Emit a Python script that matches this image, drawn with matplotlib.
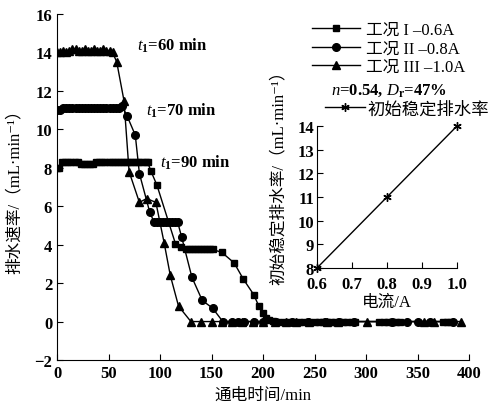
import matplotlib
matplotlib.use('Agg')
import matplotlib.pyplot as plt
from matplotlib.lines import Line2D

plt.rcParams['font.family'] = ['Liberation Serif', 'Noto Sans CJK SC', 'DejaVu Sans']
plt.rcParams['mathtext.fontset'] = 'custom'
plt.rcParams['mathtext.rm'] = 'Liberation Serif:bold'
plt.rcParams['mathtext.it'] = 'Liberation Serif:italic'
plt.rcParams['mathtext.bf'] = 'Liberation Serif:bold'

# Datos
# Caso I - 0.6A (cuadrados)
t1 = [0, 2, 5, 8, 11, 14, 17, 20, 23, 26, 29, 32, 35, 38, 41, 44, 47, 50, 53, 56, 59,
      62, 65, 68, 71, 74, 77, 80, 83, 86, 88, 91, 97, 115, 120, 125, 128, 131, 134, 137,
      140, 143, 146, 149, 151, 160, 172, 181, 191, 196, 200, 203, 206, 210, 215, 220,
      225, 230, 235, 240, 245, 250, 254, 258, 262, 266, 270, 274, 278, 282, 286, 289,
      313, 317, 321, 325, 329, 333, 375, 379, 382]
v1 = [8.0, 8.0, 8.3, 8.3, 8.3, 8.3, 8.3, 8.3, 8.2, 8.2, 8.2, 8.2, 8.2, 8.3, 8.3, 8.3,
      8.3, 8.3, 8.3, 8.3, 8.3, 8.3, 8.3, 8.3, 8.3, 8.3, 8.3, 8.3, 8.3, 8.3, 8.3, 7.85,
      7.1, 4.05, 3.9, 3.75, 3.75, 3.75, 3.75, 3.75, 3.75, 3.75, 3.75, 3.75, 3.75, 3.6,
      3.05, 2.2, 1.4, 0.8, 0.45, 0.2, 0.1, 0.05, 0, 0, 0, 0, 0, 0, 0, 0, 0, 0, 0, 0, 0,
      0, 0, 0, 0, 0, 0, 0, 0, 0, 0, 0, 0, 0, 0]

# Caso II - 0.8A (circulos)
t2 = [0, 3, 6, 9, 12, 15, 18, 21, 24, 27, 30, 33, 36, 39, 42, 45, 48, 51, 54, 57, 60,
      63, 68, 76, 80, 90, 94, 97, 100, 103, 106, 109, 112, 115, 117, 121, 131, 141, 151,
      161, 170, 176, 182, 191, 200, 213, 228, 244, 260, 274, 288, 325, 340, 350, 362, 384]
v2 = [11.0, 11.0, 11.1, 11.1, 11.1, 11.1, 11.1, 11.1, 11.1, 11.1, 11.1, 11.1, 11.1,
      11.1, 11.1, 11.1, 11.1, 11.1, 11.1, 11.1, 11.1, 11.2, 10.7, 9.7, 7.7, 5.7, 5.2,
      5.2, 5.2, 5.2, 5.2, 5.2, 5.2, 5.2, 5.2, 4.4, 2.3, 1.1, 0.7, 0, 0, 0, 0, 0, 0, 0,
      0, 0, 0, 0, 0, 0, 0, 0, 0, 0]

# Caso III - 1.0A (triangulos)
t3 = [0, 3, 6, 9, 12, 15, 18, 21, 24, 27, 30, 33, 36, 39, 42, 45, 48, 51, 54, 58, 65,
      70, 80, 87, 96, 104, 110, 118, 130, 140, 150, 160, 170, 180, 190, 200, 212, 222,
      232, 245, 262, 273, 301, 356, 366, 392]
v3 = [14.0, 14.0, 14.1, 14.0, 14.1, 14.2, 14.2, 14.1, 14.1, 14.2, 14.1, 14.1, 14.2,
      14.1, 14.1, 14.2, 14.1, 14.1, 14.0, 13.5, 11.5, 7.8, 6.2, 6.4, 6.2, 4.1, 2.4, 0.8,
      0, 0, 0, 0, 0, 0, 0, 0, 0, 0, 0, 0, 0, 0, 0, 0, 0, 0]

# Inserto: tasa inicial estable
corriente = [0.6, 0.8, 1.0]
tasa_inicial = [8, 11, 14]

etiquetas = ['工况 I –0.6A', '工况 II –0.8A', '工况 III –1.0A']

fig = plt.figure(figsize=(4.93, 4.10), dpi=100)
ax = fig.add_axes([57/493, 1-361/410, 412/493, 346/410])

ax.plot(t1, v1, 'k-', marker='s', ms=5, lw=1)
ax.plot(t2, v2, 'k-', marker='o', ms=5.5, lw=1)
ax.plot(t3, v3, 'k-', marker='^', ms=6, lw=1)

ax.set_xlim(0, 400)
ax.set_ylim(-2, 16)
ax.set_xticks(range(0, 401, 50))
ax.set_yticks(range(-2, 17, 2))
ax.set_yticklabels(['−2'] + [str(v) for v in range(0, 17, 2)])
ax.spines['top'].set_visible(False)
ax.spines['right'].set_visible(False)
ax.tick_params(direction='in', length=4, labelsize=12)
for lab in ax.get_xticklabels() + ax.get_yticklabels():
    lab.set_fontweight('bold')
ax.set_xlabel('通电时间/min', fontsize=12, labelpad=4)
ax.set_ylabel('排水速率/（mL·min⁻¹）', fontsize=12)
ax.yaxis.set_label_coords(-0.083, 0.5)

ax.text(78, 14.4, '$t_1$=60 min', fontsize=12, fontweight='bold', va='center')
ax.text(86, 11.0, '$t_1$=70 min', fontsize=12, fontweight='bold', va='center')
ax.text(100, 8.3, '$t_1$=90 min', fontsize=12, fontweight='bold', va='center')

h = [Line2D([], [], color='k', lw=1, marker=m, ms=s) for m, s in [('s', 5), ('o', 5.5), ('^', 6)]]
leg = fig.legend(h, etiquetas, loc='upper left', bbox_to_anchor=(312/493, 1-23/410),
                 frameon=False, prop={'size': 12}, handlelength=2.9,
                 handletextpad=0.35, labelspacing=0.15, borderpad=0, borderaxespad=0)
fig.text(331/493, 1-91/410, '$n$=0.54, $D_\\mathrm{r}$=47%', fontsize=12,
         fontweight='bold', va='center')

# Inserto
ins = fig.add_axes([317/493, 1-269/410, 140/493, 142/410])
ins.plot(corriente, tasa_inicial, 'k-', marker=(6, 2, 0), ms=6, mew=1, lw=1, clip_on=False)
ins.set_xlim(0.6, 1.0)
ins.set_ylim(8, 14)
ins.set_xticks([0.6, 0.7, 0.8, 0.9, 1.0])
ins.set_xticklabels(['0.6', '0.7', '0.8', '0.9', '1.0'])
ins.set_yticks(range(8, 15))
ins.spines['top'].set_visible(False)
ins.spines['right'].set_visible(False)
ins.patch.set_alpha(0)
ins.tick_params(direction='in', length=4, labelsize=12, pad=2)
ins.tick_params(axis='x', pad=6)
for lab in ins.get_xticklabels() + ins.get_yticklabels():
    lab.set_fontweight('bold')
ins.set_xlabel('电流/A', fontsize=12, labelpad=1)
ins.set_ylabel('初始稳定排水率/（mL·min⁻¹）', fontsize=12)
ins.yaxis.set_label_coords(-0.214, 0.67)

hs = [Line2D([], [], color='k', lw=1, marker=(6, 2, 0), ms=6, mew=1)]
fig.legend(hs, ['初始稳定排水率'], loc='upper left', bbox_to_anchor=(325/493, 1-102/410),
           frameon=False, prop={'size': 12.5}, handlelength=2.3,
           handletextpad=0.15, borderpad=0, borderaxespad=0)

fig.savefig('out.png', dpi=100)
